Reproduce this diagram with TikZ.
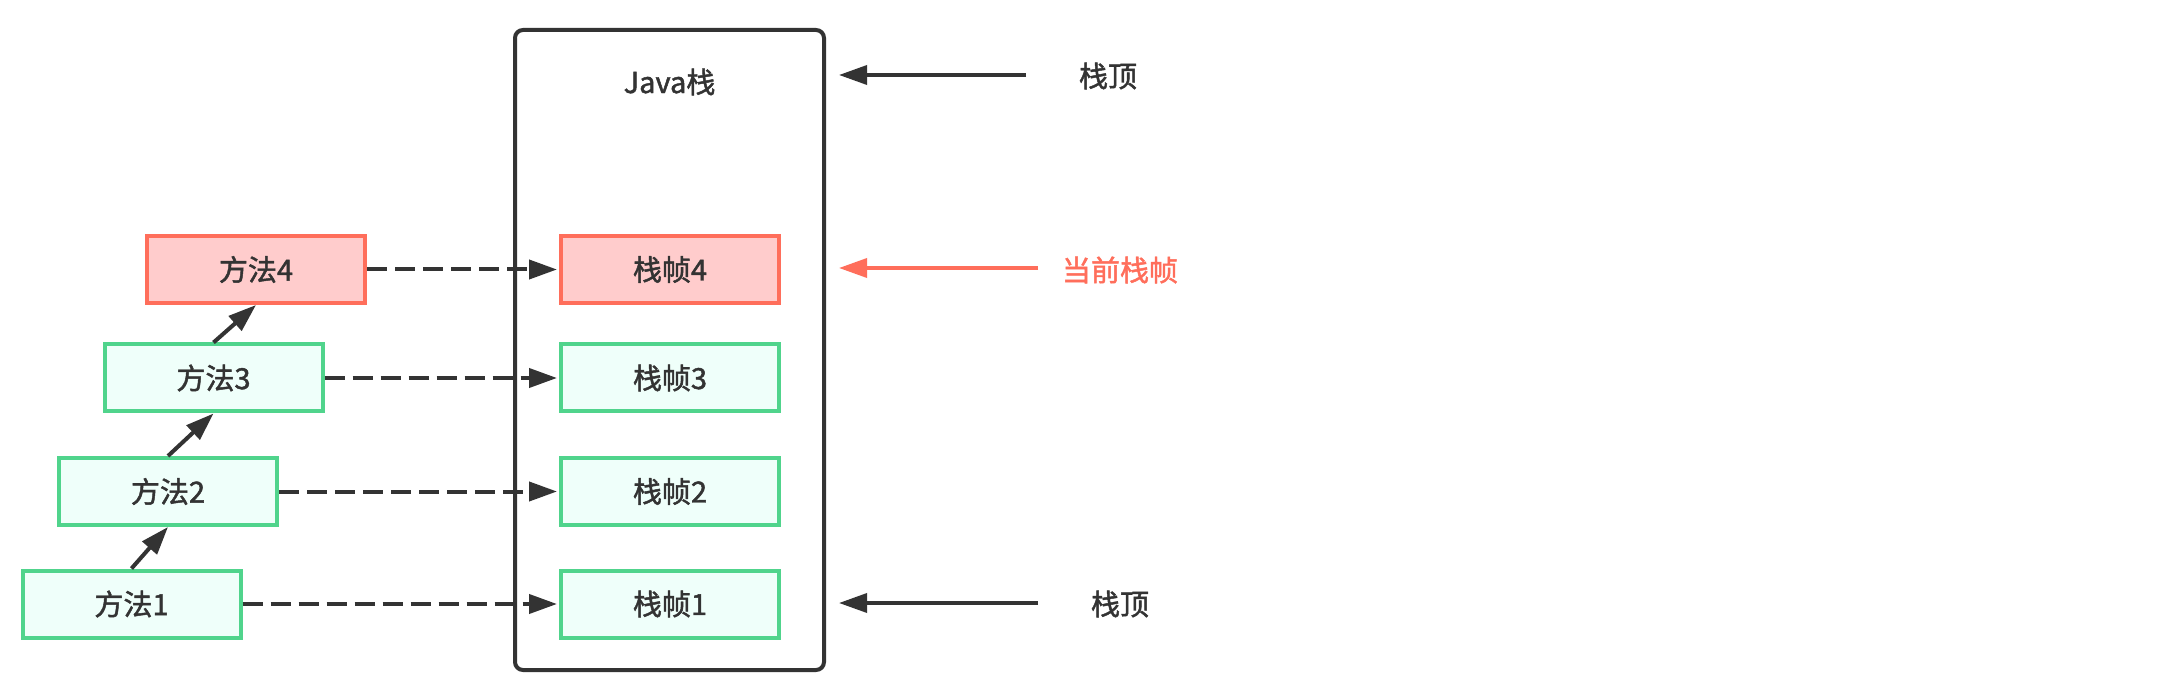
\documentclass[tikz,border=0pt]{standalone}
\usepackage{fontspec}
\newfontfamily\cjk[FakeBold=1.6]{Noto Sans CJK SC}
\usetikzlibrary{arrows.meta}
\definecolor{dark}{HTML}{333333}
\definecolor{grn}{HTML}{50D48C}
\definecolor{grnfill}{HTML}{EFFFFA}
\definecolor{rd}{HTML}{FF6E5B}
\definecolor{rdfill}{HTML}{FFCCCC}
\begin{document}
\begin{tikzpicture}[x=1pt,y=-1pt,
  box/.style={draw, line width=4pt, minimum width=218pt, minimum height=67pt, inner sep=0pt,
    font=\cjk\fontsize{29}{29}\selectfont, text=dark},
  gbox/.style={box, draw=grn, fill=grnfill},
  rbox/.style={box, draw=rd, fill=rdfill},
  lbl/.style={font=\cjk\fontsize{29}{29}\selectfont, text=dark, inner sep=0pt},
  arr/.style={draw=dark, line width=4pt, -{Triangle[length=28pt,width=19pt]}},
  darr/.style={arr, dash pattern=on 20pt off 8pt, shorten >=2pt},
  sarr/.style={arr, line width=3.5pt, shorten >=13pt},
]
\useasboundingbox (0,0) rectangle (2182,700);
\fill[white] (0,0) rectangle (2182,700);

% Java stack container
\node[draw=dark, line width=4pt, rounded corners=8pt, minimum width=309pt,
      minimum height=640pt, inner sep=0pt] (stack) at (669.5,350) {};
\node[lbl] (java) at (669.5,82) {Java栈};

% method boxes
\node[rbox] (m4) at (256,269.5) {方法4};
\node[gbox] (m3) at (213.5,378) {方法3};
\node[gbox] (m2) at (168,491.5) {方法2};
\node[gbox] (m1) at (131.5,604) {方法1};

% frame boxes
\node[rbox] (f4) at (670,269.5) {栈帧4};
\node[gbox] (f3) at (670,378) {栈帧3};
\node[gbox] (f2) at (670,491.5) {栈帧2};
\node[gbox] (f1) at (670,604) {栈帧1};

% call arrows
\draw[arr] (m1.north) -- (m2.south);
\draw[arr] (m2.north) -- (m3.south);
\draw[arr] (m3.north) -- (m4.south);

% dashed mapping arrows
\draw[darr] (m4.east) -- (f4.west);
\draw[darr] (m3.east) -- (f3.west);
\draw[darr] (m2.east) -- (f2.west);
\draw[darr] (m1.east) -- (f1.west);

% right labels
\node[lbl] (top) at (1108,76) {栈顶};
\node[lbl, text=rd] (cur) at (1120,270) {当前栈帧};
\node[lbl] (bot) at (1120,604) {栈顶};

\coordinate (ts) at (1026,75);
\coordinate (cs) at (1038,268);
\coordinate (bs) at (1038,603);
\draw[sarr] (ts) -- (stack.east |- ts);
\draw[sarr, draw=rd] (cs) -- (stack.east |- cs);
\draw[sarr] (bs) -- (stack.east |- bs);
\end{tikzpicture}
\end{document}
